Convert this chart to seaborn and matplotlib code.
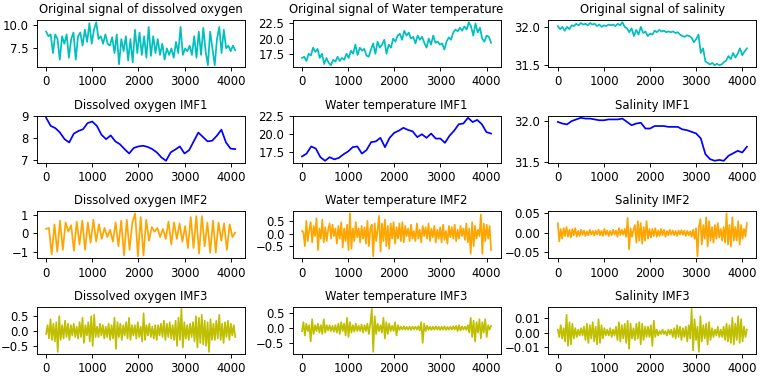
import numpy as np
import matplotlib
matplotlib.use("Agg")
import matplotlib.pyplot as plt
import seaborn as sns

# original signals (sampled roughly every 50 steps)
do_orig = [9.3, 8.8, 9.0, 7.0, 9.0, 8.5, 6.3, 8.8, 8.0, 9.0, 6.5, 8.5, 9.2, 6.3, 8.8, 9.2,
           7.8, 9.5, 8.2, 10.2, 8.0, 9.5, 10.3, 8.5, 8.8, 8.0, 9.0, 8.0, 7.8, 8.7, 7.0, 9.0,
           5.8, 8.5, 7.2, 8.8, 6.2, 8.5, 6.0, 9.5, 7.0, 9.2, 6.8, 8.8, 6.5, 9.8, 6.7, 8.8,
           7.0, 8.5, 6.8, 8.0, 6.3, 7.5, 6.8, 7.5, 6.5, 8.2, 7.0, 9.8, 6.8, 7.5, 7.2, 7.8,
           6.8, 8.8, 6.5, 9.3, 6.8, 9.7, 7.2, 5.7, 9.3, 7.5, 5.7, 8.5, 9.8, 7.0, 9.5, 7.5,
           7.8, 7.2, 7.8, 7.3]
wt_orig = [16.8, 17.0, 16.3, 17.5, 17.2, 18.5, 17.8, 18.3, 16.8, 17.5, 15.8, 16.8, 16.0, 15.6,
           16.5, 16.2, 17.0, 16.3, 16.8, 16.5, 17.5, 16.8, 18.0, 17.5, 19.0, 17.3, 18.5, 18.0,
           18.3, 17.2, 17.0, 18.2, 19.2, 17.5, 19.5, 18.5, 19.0, 19.8, 17.5, 19.0, 18.5, 20.0,
           19.5, 20.5, 20.8, 19.8, 21.3, 20.5, 21.0, 20.0, 20.3, 19.2, 20.5, 19.8, 20.3, 19.3,
           18.5, 20.0, 19.0, 20.5, 19.3, 19.5, 19.0, 19.2, 18.2, 19.5, 20.2, 19.8, 21.0, 21.5,
           21.2, 21.8, 21.3, 22.0, 21.5, 22.7, 22.0, 20.5, 22.5, 21.0, 21.8, 20.0, 19.5, 20.5,
           20.3, 19.3]
sal_orig = [32.01, 31.97, 32.00, 31.95, 32.00, 31.97, 32.02, 32.01, 32.04, 32.02, 32.05, 32.03,
            32.04, 32.02, 32.05, 32.03, 32.04, 32.01, 32.03, 32.00, 32.02, 32.01, 32.03, 32.02,
            32.03, 32.01, 32.04, 32.02, 32.06, 32.00, 31.98, 31.93, 31.98, 31.88, 31.96, 31.90,
            32.00, 31.92, 31.94, 31.88, 31.91, 31.90, 31.95, 31.93, 31.96, 31.94, 31.95, 31.93,
            31.94, 31.93, 31.94, 31.92, 31.93, 31.90, 31.88, 31.87, 31.89, 31.88, 31.86, 31.80,
            31.84, 31.90, 31.66, 31.72, 31.55, 31.53, 31.51, 31.53, 31.50, 31.52, 31.50, 31.51,
            31.54, 31.56, 31.62, 31.58, 31.66, 31.60, 31.65, 31.72, 31.63, 31.68, 31.72]

# IMF1 (trend, every ~100 steps)
do_imf1 = [8.92, 8.55, 8.45, 8.25, 7.95, 7.8, 8.2, 8.32, 8.4, 8.68, 8.75, 8.55, 8.15, 7.95,
           8.12, 7.85, 7.72, 7.5, 7.3, 7.55, 7.62, 7.65, 7.6, 7.5, 7.35, 7.12, 6.97, 7.35,
           7.48, 7.62, 7.3, 7.45, 7.85, 8.25, 8.05, 7.85, 7.88, 8.1, 8.38, 7.8, 7.52, 7.5]
wt_imf1 = [16.9, 17.3, 18.3, 18.0, 16.8, 16.3, 16.8, 16.5, 16.7, 17.2, 17.6, 18.2, 18.3, 17.3,
           17.8, 18.9, 19.0, 19.5, 18.2, 19.5, 20.2, 20.5, 20.9, 20.6, 20.4, 19.6, 20.0, 19.5,
           20.1, 19.4, 19.4, 18.8, 19.8, 20.5, 21.4, 21.5, 22.3, 21.7, 22.0, 21.4, 20.3, 20.1]
sal_imf1 = [31.99, 31.97, 31.96, 32.00, 32.02, 32.04, 32.03, 32.03, 32.02, 32.01, 32.01, 32.02,
            32.02, 32.02, 32.03, 31.99, 31.95, 31.97, 31.98, 31.91, 31.91, 31.94, 31.94, 31.94,
            31.93, 31.93, 31.93, 31.90, 31.89, 31.87, 31.85, 31.79, 31.60, 31.54, 31.52, 31.53,
            31.52, 31.58, 31.61, 31.64, 31.62, 31.69]

# IMF2
do_imf2 = [0.25, 0.3, -1.15, 0.5, -1.0, 0.7, -0.9, 0.6, 0.1, 0.45, -0.95, 0.65, -0.6, 0.7, -0.9, 0.6, -0.5,
           0.75, -0.45, 0.5, -0.3, 0.3, -0.2, 0.2, -0.45, 0.6, -0.7, 0.7, -1.2, 0.75, -0.9, 0.6, 1.1, -1.25,
           0.9, -1.2, 0.75, -0.4, 0.35, 0.1, 0.3, -0.2, 0.25, -0.3, 0.65, -0.6, 0.6, -0.3, 0.55, -0.45, 0.4,
           -0.8, 0.9, -0.8, 0.95, -1.1, 0.95, -0.7, 0.6, -1.05, 0.7, -1.05, 0.6, -0.4, 0.55, -0.9, 0.5, -0.2, 0.05]
wt_imf2 = [0.1, 0.05, -0.5, 0.5, -0.3, 0.15, 0.45, -0.35, 0.3, -0.1, 0.6, -0.65, 0.2, -0.2, 0.55, -0.35,
           0.25, -0.3, 0.15, 0.4, -0.2, 0.35, -0.1, 0.2, -0.4, 0.3, -0.2, 0.45, -0.55, 0.2, -0.3, 0.35,
           -0.65, 0.8, -0.6, 0.2, -0.3, 0.45, -0.15, 0.2, -0.35, 0.3, -0.2, 0.25, -0.4, 0.5, -0.5, 0.2,
           0.35, -0.9, 0.4, -0.3, 0.15, 0.7, -0.7, 0.4, -0.3, 0.55, -0.5, 0.3, -0.6, 0.4, -0.2, 0.45,
           -0.4, 0.25, -0.2, 0.4, -0.3, 0.45, -0.35, 0.3, -0.1, 0.2, -0.3, 0.35, -0.2, 0.1, -0.3, 0.4,
           -0.2, 0.15, -0.35, 0.3, -0.1, 0.25, -0.2, 0.4, -0.3, 0.2, -0.15, 0.3, -0.35, 0.15, -0.2, 0.25,
           -0.35, 0.35, -0.25, 0.1, -0.4, 0.3, -0.15, 0.25, -0.2, 0.35, -0.3, 0.15, -0.2, 0.3, -0.1, 0.2,
           -0.25, 0.4, -0.35, 0.2, -0.8, 0.45, -0.5, 0.3, -0.2, 0.15, -0.1, 0.75, -0.8, 0.4, -0.3, 0.35,
           -0.2, 0.3, -0.65]
sal_imf2 = [0.025, -0.022, 0.01, -0.015, 0.012, -0.008, 0.015, -0.01, 0.008, -0.012, 0.01, -0.006, 0.012, -0.01, 0.005, -0.008,
            0.008, -0.005, 0.006, -0.008, 0.004, -0.006, 0.008, -0.004, 0.005, -0.007, 0.006, -0.004, 0.008, -0.006, 0.005, -0.008,
            0.01, -0.005, 0.006, -0.008, 0.005, -0.006, 0.008, -0.004, 0.006, -0.01, 0.012, -0.006, 0.008, -0.005, 0.01, -0.01,
            0.038, -0.042, 0.012, -0.01, 0.008, 0.02, -0.025, 0.03, -0.02, 0.025, -0.028, 0.015, -0.02, 0.03, -0.015, 0.01,
            -0.012, 0.01, -0.008, 0.012, -0.01, 0.006, -0.008, 0.01, -0.006, 0.008, -0.01, 0.005, -0.006, 0.008, -0.005, 0.006,
            -0.006, 0.005, -0.008, 0.006, -0.004, 0.007, -0.005, 0.006, -0.008, 0.005, -0.006, 0.004, -0.01, 0.008, -0.015, 0.012,
            -0.06, 0.015, 0.035, -0.03, 0.02, -0.015, 0.04, -0.035, 0.03, -0.02, 0.015, -0.025, 0.02, -0.015, 0.025, -0.012,
            0.01, -0.02, 0.015, -0.025, 0.05, -0.03, 0.02, -0.035, 0.04, -0.02, 0.015, -0.02, 0.03, -0.03, 0.02, -0.015,
            0.01, -0.01, 0.025]

# IMF3
do_imf3 = [-0.1, 0.2, -0.25, 0.4, -0.3, 0.25, -0.35, 0.3, -0.7, 0.5, -0.3, 0.2, -0.25, 0.35, -0.2, 0.25,
           -0.3, 0.2, -0.15, 0.25, -0.2, 0.15, -0.25, 0.3, -0.2, 0.45, -0.4, 0.2, -0.15, 0.3, -0.35, 0.5,
           -0.5, 0.55, -0.2, 0.15, -0.2, 0.25, -0.15, 0.2, -0.25, 0.15, -0.2, 0.25, -0.3, 0.2, -0.25, 0.45,
           -0.6, 0.3, -0.2, 0.25, -0.3, 0.2, -0.15, 0.3, -0.25, 0.45, -0.3, 0.2, -0.15, 0.2, -0.25, 0.3,
           -0.2, 0.15, -0.35, 0.6, -0.3, 0.2, -0.15, 0.25, -0.2, 0.15, -0.25, 0.2, -0.3, 0.2, -0.15, 0.25,
           -0.2, 0.35, -0.3, 0.25, -0.2, 0.3, -0.25, 0.2, -0.3, 0.35, -0.5, 0.45, -0.3, 0.75, -0.55, 0.3,
           -0.25, 0.2, -0.3, 0.25, -0.2, 0.3, -0.35, 0.5, -0.55, 0.45, -0.4, 0.55, -0.45, 0.35, -0.5, 0.3,
           -0.7, 0.4, -0.3, 0.25, -0.3, 0.35, -0.25, 0.55, -0.3, 0.25, -0.4, 0.3, -0.2, 0.35, -0.3, 0.25,
           -0.15, 0.2, -0.2]
wt_imf3 = [-0.1, 0.2, -0.25, 0.15, -0.1, 0.1, -0.45, 0.3, -0.2, 0.1, -0.1, 0.15, -0.15, 0.1, -0.2, 0.3,
           -0.15, 0.1, -0.08, 0.1, -0.1, 0.08, -0.12, 0.1, -0.15, 0.15, -0.2, 0.2, -0.1, 0.15, -0.25, 0.35,
           -0.3, 0.2, -0.15, 0.1, -0.12, 0.15, -0.1, 0.08, -0.1, 0.12, -0.15, 0.1, -0.1, 0.15, -0.2, 0.15,
           0.65, -0.8, 0.4, -0.2, 0.15, -0.1, 0.1, -0.15, 0.35, -0.35, 0.2, -0.2, 0.15, -0.1, 0.08, -0.1,
           0.2, -0.25, 0.1, -0.06, 0.05, -0.05, 0.06, -0.05, 0.04, -0.05, 0.05, -0.06, 0.05, -0.04, 0.05, -0.05,
           0.06, -0.08, 0.2, -0.5, 0.15, -0.1, 0.08, -0.06, 0.05, -0.06, 0.05, -0.05, 0.06, -0.05, 0.05, -0.06,
           0.05, -0.05, 0.06, -0.06, 0.04, -0.05, 0.05, -0.05, 0.06, -0.05, 0.08, -0.1, 0.1, -0.08, 0.06, -0.05,
           0.05, -0.06, 0.1, -0.15, 0.35, -0.3, 0.25, -0.45, 0.2, -0.15, 0.3, -0.35, 0.2, -0.15, 0.3, -0.3,
           0.1, -0.05, 0.08]
sal_imf3 = [0.002, -0.003, 0.005, -0.004, 0.003, -0.006, 0.012, -0.009, 0.007, -0.008, 0.006, -0.004, 0.003, -0.003, 0.002, -0.002,
            0.003, -0.002, 0.004, -0.005, 0.006, -0.007, 0.005, -0.004, 0.007, -0.006, 0.004, -0.008, 0.009, -0.007, 0.005, -0.004,
            0.003, -0.002, 0.002, -0.002, 0.003, -0.003, 0.002, -0.002, 0.004, -0.005, 0.007, -0.006, 0.005, -0.004, 0.006, -0.007,
            0.008, -0.011, 0.006, -0.004, 0.003, -0.005, 0.006, -0.004, 0.007, -0.008, 0.006, -0.005, 0.004, -0.003, 0.004, -0.003,
            0.005, -0.009, 0.008, -0.003, 0.002, -0.002, 0.001, -0.001, 0.002, -0.001, 0.001, -0.002, 0.002, -0.001, 0.002, -0.003,
            0.003, -0.004, 0.005, -0.003, 0.004, -0.005, 0.003, -0.003, 0.004, -0.006, 0.005, -0.004, 0.016, -0.012, 0.009, -0.005,
            0.004, -0.013, 0.011, -0.006, 0.005, -0.004, 0.006, -0.008, 0.007, -0.005, 0.003, -0.003, 0.002, -0.002, 0.004, -0.003,
            0.002, -0.003, 0.004, -0.005, 0.006, -0.006, 0.005, -0.007, 0.01, -0.008, 0.006, -0.005, 0.011, -0.007, 0.009, -0.006,
            0.004, -0.003, 0.002]

n_samples = 4096

panels = [
    (do_orig, 'Original signal of dissolved oxygen', 'c'),
    (wt_orig, 'Original signal of Water temperature', 'c'),
    (sal_orig, 'Original signal of salinity', 'c'),
    (do_imf1, 'Dissolved oxygen IMF1', 'b'),
    (wt_imf1, 'Water temperature IMF1', 'b'),
    (sal_imf1, 'Salinity IMF1', 'b'),
    (do_imf2, 'Dissolved oxygen IMF2', 'orange'),
    (wt_imf2, 'Water temperature IMF2', 'orange'),
    (sal_imf2, 'Salinity IMF2', 'orange'),
    (do_imf3, 'Dissolved oxygen IMF3', 'y'),
    (wt_imf3, 'Water temperature IMF3', 'y'),
    (sal_imf3, 'Salinity IMF3', 'y'),
]

# the reference looks like a downscaled render, so shrink everything a bit
plt.rcParams.update({
    'font.size': 8.4,
    'axes.linewidth': 0.67,
    'xtick.major.size': 2.9, 'ytick.major.size': 2.9,
    'xtick.major.width': 0.67, 'ytick.major.width': 0.67,
    'xtick.major.pad': 2.9, 'ytick.major.pad': 2.9,
})

fig, axes = plt.subplots(4, 3, figsize=(7.64, 3.79), dpi=100)
for ax, (vals, title, col) in zip(axes.flat, panels):
    x = np.linspace(0, n_samples, len(vals))
    sns.lineplot(x=x, y=vals, ax=ax, color=col, estimator=None, linewidth=1.25)
    ax.set_title(title, fontsize=8.4, pad=5)
    ax.set_xticks([0, 1000, 2000, 3000, 4000])

fig.subplots_adjust(left=0.048, right=0.99, top=0.947, bottom=0.066,
                    wspace=0.23, hspace=1.02)
plt.savefig('out.png', dpi=100)
